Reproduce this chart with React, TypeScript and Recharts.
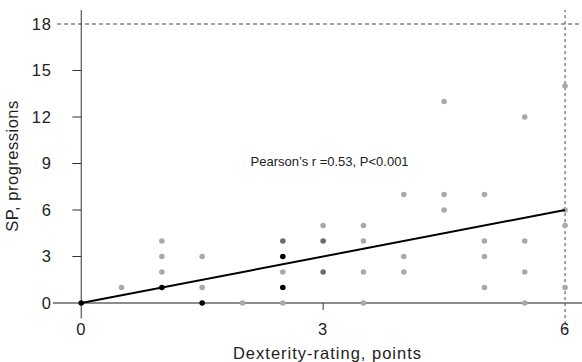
import React from 'react'
import {
  ScatterChart,
  Scatter,
  XAxis,
  YAxis,
  ReferenceLine,
  ReferenceDot,
} from 'recharts'

// points grouped by shade (darker = overlapping observations)
const lightPoints = [
  { x: 0.5, y: 1 },
  { x: 1, y: 4 }, { x: 1, y: 3 }, { x: 1, y: 2 },
  { x: 1.5, y: 3 }, { x: 1.5, y: 1 },
  { x: 2, y: 0 },
  { x: 2.5, y: 2 }, { x: 2.5, y: 0 },
  { x: 3, y: 5 },
  { x: 3.5, y: 5 }, { x: 3.5, y: 4 }, { x: 3.5, y: 2 }, { x: 3.5, y: 0 },
  { x: 4, y: 7 }, { x: 4, y: 3 }, { x: 4, y: 2 },
  { x: 4.5, y: 13 }, { x: 4.5, y: 7 }, { x: 4.5, y: 6 },
  { x: 5, y: 7 }, { x: 5, y: 4 }, { x: 5, y: 3 }, { x: 5, y: 1 },
  { x: 5.5, y: 12 }, { x: 5.5, y: 4 }, { x: 5.5, y: 2 }, { x: 5.5, y: 0 },
  { x: 6, y: 14 }, { x: 6, y: 6 }, { x: 6, y: 5 }, { x: 6, y: 1 },
]
const darkPoints = [
  { x: 2.5, y: 4 },
  { x: 3, y: 4 }, { x: 3, y: 2 },
]
const blackPoints = [
  { x: 0, y: 0 },
  { x: 1, y: 1 },
  { x: 1.5, y: 0 },
  { x: 2.5, y: 3 }, { x: 2.5, y: 1 },
]

const fitLine = [
  { x: 0, y: 0 },
  { x: 6, y: 6 },
]

const xTicks = [0, 3, 6]
const yTicks = [0, 3, 6, 9, 12, 15, 18]
const yTickMarks = [3, 6, 9, 12, 15]
const xDomain = [-0.35, 6.21]
const yDomain = [-1, 19]
const maxY = 18
const maxX = 6

const annotation = { x: 2.1, y: 8.85, text: 'Pearson\u2019s r =0.53, P<0.001' }

const FONT = '"Liberation Sans", Arial, Helvetica, sans-serif'
const axisText = { fontSize: 16.5, fill: '#222', fontFamily: FONT, letterSpacing: 1 }

const dot = (color: string) => (props: any) => (
  <circle cx={props.cx} cy={props.cy} r={2.8} fill={color} />
)

export default function App() {
  return (
    <div style={{ position: 'absolute', left: 0, top: 0, width: 582, height: 362, background: '#fff' }}>
      <ScatterChart
        width={582}
        height={362}
        margin={{ top: 8.5, right: 0, bottom: 0, left: 0 }}
        style={{ fontFamily: FONT }}
      >
        <XAxis
          type="number"
          dataKey="x"
          domain={xDomain}
          ticks={xTicks}
          allowDataOverflow
          axisLine={false}
          tickLine={false}
          tickSize={0}
          tickMargin={5}
          height={43.5}
          tick={axisText}
          label={{
            value: 'Dexterity-rating, points',
            position: 'insideBottom',
            offset: 3.5,
            dx: 10,
            ...axisText,
          }}
        />
        <YAxis
          type="number"
          dataKey="y"
          domain={yDomain}
          ticks={yTicks}
          allowDataOverflow
          axisLine={false}
          tickLine={false}
          tickSize={0}
          tickMargin={1}
          width={53}
          tick={axisText}
          label={{
            content: ({ viewBox }: any) => {
              const cx = viewBox.x + 18
              const cy = viewBox.y + viewBox.height / 2 + 2.5
              return (
                <text
                  x={cx}
                  y={cy}
                  transform={`rotate(-90, ${cx}, ${cy})`}
                  textAnchor="middle"
                  fontSize={16.5}
                  letterSpacing={0.5}
                  fill="#222"
                  fontFamily={FONT}
                >
                  SP, progressions
                </text>
              )
            },
          }}
        />

        {/* reference dashed limits */}
        <ReferenceLine
          segment={[{ x: -0.3, y: maxY }, { x: xDomain[1], y: maxY }]}
          stroke="#444"
          strokeDasharray="4 3"
          ifOverflow="visible"
        />
        <ReferenceLine
          segment={[{ x: maxX, y: -1.75 }, { x: maxX, y: 18.9 }]}
          stroke="#444"
          strokeDasharray="3 3"
          ifOverflow="visible"
        />

        {/* axes drawn through the origin */}
        <ReferenceLine y={0} stroke="#666" strokeWidth={1.3} ifOverflow="visible" />
        <ReferenceLine
          segment={[{ x: 0, y: -1 }, { x: 0, y: 18.9 }]}
          stroke="#333"
          ifOverflow="visible"
        />
        {yTickMarks.map(t => (
          <ReferenceLine
            key={t}
            segment={[{ x: -0.11, y: t }, { x: 0, y: t }]}
            stroke="#333"
            ifOverflow="visible"
          />
        ))}
        <ReferenceLine
          segment={[{ x: 3, y: 0 }, { x: 3, y: -0.45 }]}
          stroke="#333"
          ifOverflow="visible"
        />

        <Scatter data={lightPoints} fill="#a9a9a9" shape={dot('#a9a9a9')} isAnimationActive={false} />
        <Scatter data={darkPoints} fill="#6b6b6b" shape={dot('#6b6b6b')} isAnimationActive={false} />
        <Scatter
          data={fitLine}
          line={{ stroke: '#000', strokeWidth: 2 }}
          shape={() => null}
          isAnimationActive={false}
        />
        <Scatter data={blackPoints} fill="#000" shape={dot('#000')} isAnimationActive={false} />

        <ReferenceDot
          x={annotation.x}
          y={annotation.y}
          r={0}
          fill="none"
          stroke="none"
          ifOverflow="visible"
          label={{
            content: ({ viewBox }: any) => (
              <text x={viewBox.x} y={viewBox.y} fontSize={13} fill="#222" fontFamily={FONT}>
                {annotation.text}
              </text>
            ),
          }}
        />
      </ScatterChart>
    </div>
  )
}
